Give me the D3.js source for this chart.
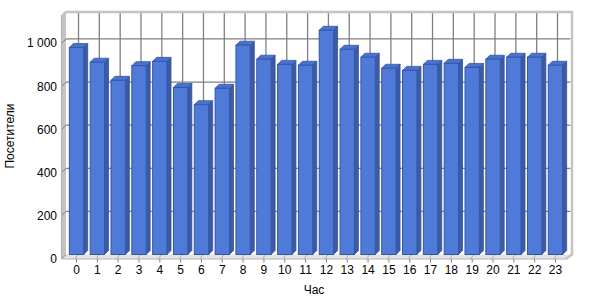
<!DOCTYPE html>
<html><head><meta charset="utf-8">
<script src="https://cdn.jsdelivr.net/npm/d3@7"></script>
<style>body{margin:0;background:#fff}svg{display:block}text{font-family:"Liberation Sans",Arial,sans-serif;fill:#000}</style>
</head><body><svg id="c" width="600" height="300"></svg>
<script>
const hours = ["0","1","2","3","4","5","6","7","8","9","10","11","12","13","14","15","16","17","18","19","20","21","22","23"];
const visitors = [960,892,808,876,896,775,695,771,971,906,882,878,1040,952,915,864,854,882,887,868,906,915,915,878];
const yTicks = [0,200,400,600,800,1000];
const xTitle = "Час";
const yTitle = "Посетители";

const svg = d3.select("#c");
const dx = 4.5, dy = 4.5;          // 3D depth of the plot box
const bdx = 4, bdy = 4;            // 3D depth of the bars
const xL = 61.5, xR = 566, yB = 259, yT = 16.5; // front plane
const x = d3.scaleBand().domain(hours).range([66, 566]).paddingInner(0.31).paddingOuter(0.16);
const yMax = 1125;
const yFront = d3.scaleLinear().domain([0, yMax]).range([yB, yT]);
const yBack = d3.scaleLinear().domain([0, yMax]).range([yB - dy, yT - dy]);
const ru = d3.formatLocale({decimal: ",", thousands: " ", grouping: [3], currency: ["", ""]});
const fmt = ru.format(",d");
const cx = d => x(d) + x.bandwidth() / 2;

// back wall
svg.append("rect").attr("x", xL + dx).attr("y", yT - dy).attr("width", xR - xL).attr("height", yB - yT).attr("fill", "#fff");
// gridlines on back wall
svg.append("g").selectAll("line").data(yTicks.filter(v => v > 0)).join("line")
  .attr("x1", xL + dx).attr("x2", xR + dx).attr("y1", d => yBack(d)).attr("y2", d => yBack(d))
  .attr("stroke", "#808080").attr("stroke-width", 1.3);
svg.append("g").selectAll("line").data(hours).join("line")
  .attr("x1", d => cx(d) + 2).attr("x2", d => cx(d) + 2).attr("y1", yT - dy).attr("y2", yB - dy)
  .attr("stroke", "#808080").attr("stroke-width", 1.3);
// left wall
svg.append("path").attr("d", `M${xL},${yT}L${xL+dx},${yT-dy}L${xL+dx},${yB-dy}L${xL},${yB}Z`)
  .attr("fill", "#c4c4c4");
// floor
svg.append("path").attr("d", `M${xL},${yB}L${xL+dx},${yB-dy}L${xR+dx},${yB-dy}L${xR},${yB}Z`)
  .attr("fill", "#e4e4e4");
// top and right rims
svg.append("path").attr("d", `M${xL},${yT}L${xL+dx},${yT-dy}L${xR+dx+1.5},${yT-dy}L${xR+dx+1.5},${yB-dy}L${xR},${yB}`)
  .attr("fill", "none").attr("stroke", "#c4c4c4").attr("stroke-width", 2.5);
// diagonal ticks across left wall
svg.append("g").selectAll("line").data(yTicks).join("line")
  .attr("x1", xL).attr("x2", xL + dx).attr("y1", d => yFront(d)).attr("y2", d => yBack(d))
  .attr("stroke", "#808080").attr("stroke-width", 1);
// floor diagonals
svg.append("g").selectAll("line").data(hours).join("line")
  .attr("x1", d => cx(d) - 2).attr("x2", d => cx(d) + 2).attr("y1", yB).attr("y2", yB - dy)
  .attr("stroke", "#aaa").attr("stroke-width", 1);

// bars
const w = x.bandwidth();
const bars = svg.append("g").selectAll("g").data(hours.map((h, i) => ({h, v: visitors[i]}))).join("g");
bars.append("path").attr("d", d => {
  const x0 = x(d.h) + w, yt = yBack(d.v), yb = yBack(0);
  return `M${x0},${yt}L${x0+bdx},${yt-bdy}L${x0+bdx},${yb-bdy}L${x0},${yb}Z`;
}).attr("fill", "#3c5ba6").attr("stroke", "#34509a").attr("stroke-width", 0.8);
bars.append("path").attr("d", d => {
  const x0 = x(d.h), yt = yBack(d.v);
  return `M${x0},${yt}L${x0+bdx},${yt-bdy}L${x0+w+bdx},${yt-bdy}L${x0+w},${yt}Z`;
}).attr("fill", "#4a72cf").attr("stroke", "#3556a8").attr("stroke-width", 0.8);
bars.append("rect").attr("x", d => x(d.h)).attr("y", d => yBack(d.v))
  .attr("width", w).attr("height", d => yBack(0) - yBack(d.v))
  .attr("fill", "#507ad8").attr("stroke", "#3556a8").attr("stroke-width", 1);

// front axis lines
svg.append("line").attr("x1", xL).attr("x2", xL).attr("y1", yT).attr("y2", yB).attr("stroke", "#b4b4b4").attr("stroke-width", 1.2);
svg.append("line").attr("x1", xL).attr("x2", xR).attr("y1", yB).attr("y2", yB).attr("stroke", "#b4b4b4").attr("stroke-width", 1.2);
// x ticks
svg.append("g").selectAll("line").data(hours).join("line")
  .attr("x1", d => cx(d)).attr("x2", d => cx(d)).attr("y1", yB).attr("y2", yB + 3.5)
  .attr("stroke", "#808080");
svg.append("g").selectAll("text").data(hours).join("text")
  .attr("x", d => cx(d)).attr("y", 274).attr("text-anchor", "middle").attr("font-size", 12).text(d => d);
svg.append("g").selectAll("text").data(yTicks).join("text")
  .attr("x", 57).attr("y", d => yFront(d) + 4).attr("text-anchor", "end").attr("font-size", 12).text(d => fmt(d));
svg.append("text").attr("x", 314).attr("y", 294).attr("text-anchor", "middle").attr("font-size", 12).text(xTitle);
svg.append("text").attr("transform", "translate(14,136) rotate(-90)").attr("text-anchor", "middle").attr("font-size", 12).text(yTitle);
</script></body></html>
